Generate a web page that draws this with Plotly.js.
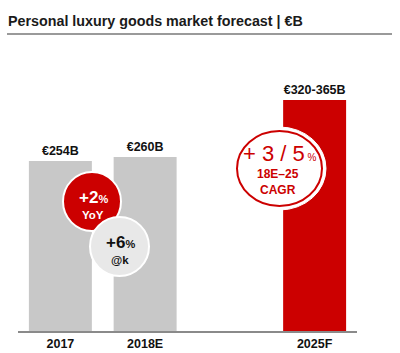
<!DOCTYPE html>
<html>
<head>
<meta charset="utf-8">
<script src="https://cdn.plot.ly/plotly-3.0.1.min.js"></script>
<style>html,body{margin:0;padding:0;background:#fff;}#chart{width:400px;height:353px;}</style>
</head>
<body>
<div id="chart"></div>
<script>
// ---- data ----
const categories = ['2017', '2018E', '2025F'];
const values = [254, 260, 345];          // 2025F drawn at mid of 320-365 range
const valueLabels = ['€254B', '€260B', '€320-365B'];
const barColors = ['#c8c8c8', '#c8c8c8', '#cc0000'];
const axisOrder = ['2017', '2018E', ' ', '2025F']; // blank slot gives the gap

// ---- layout helpers (pixel -> paper) ----
const L = 18, R = 357, T = 77, B = 331;
const px = x => (x - L) / (R - L);
const py = y => (B - y) / (B - T);
const FONT = 'Liberation Sans, Arial, sans-serif';

function ell(x0, y0, x1, y1, fill, lineColor, lineWidth) {
  return {type: 'circle', xref: 'paper', yref: 'paper', layer: 'above',
    x0: px(x0), x1: px(x1), y0: py(y1), y1: py(y0),
    fillcolor: fill, line: {color: lineColor, width: lineWidth}};
}
function ann(x, y, text, size, color) {
  return {xref: 'paper', yref: 'paper', x: px(x), y: py(y), text: text,
    showarrow: false, xanchor: 'center', yanchor: 'middle',
    font: {family: FONT, size: size, color: color}};
}

const trace = {
  type: 'bar', x: categories, y: values,
  marker: {color: barColors, line: {width: 0}},
  text: valueLabels, textposition: 'outside', cliponaxis: false,
  textfont: {family: FONT, size: 12.5, color: '#111', weight: 'bold'},
  hoverinfo: 'skip'
};

const layout = {
  width: 400, height: 353,
  margin: {l: L, r: 400 - R, t: T, b: 353 - B, pad: 0},
  paper_bgcolor: '#fff', plot_bgcolor: '#fff',
  showlegend: false, bargap: 0.257,
  title: {text: 'Personal luxury goods market forecast | €B',
    x: 8 / 400, xref: 'container', xanchor: 'left',
    y: 1 - 21 / 353, yref: 'container', yanchor: 'middle',
    font: {family: FONT, size: 14.3, color: '#1a1a1a', weight: 'bold'}},
  xaxis: {type: 'category', categoryorder: 'array', categoryarray: axisOrder,
    range: [-0.5, 3.5], showline: true, linecolor: '#8a8a8a', linewidth: 1.5,
    ticks: '', showgrid: false, zeroline: false, fixedrange: true,
    tickfont: {family: FONT, size: 12.5, color: '#111', weight: 'bold'}},
  yaxis: {range: [0, 379.5], visible: false, showgrid: false, zeroline: false, fixedrange: true},
  shapes: [
    {type: 'line', xref: 'paper', yref: 'paper', x0: px(7), x1: px(392), y0: py(34), y1: py(34),
      line: {color: '#9a9a9a', width: 2}},
    ell(63, 172, 121, 231, '#cc0000', '#ffffff', 2),
    ell(90, 217, 149, 276, '#e8e8e8', '#ffffff', 2),
    ell(233, 127, 326, 210, '#ffffff', '#ffffff', 1),
    ell(237, 131, 322, 206, '#ffffff', '#cc0000', 2)
  ],
  annotations: [
    ann(93, 197, '<b>+2<span style="font-size:11px">%</span></b>', 17, '#ffffff'),
    ann(93, 215, '<b>YoY</b>', 11.5, '#ffffff'),
    ann(120, 242, '<b>+6<span style="font-size:11px">%</span></b>', 17, '#111111'),
    ann(120, 260, '<b>@k</b>', 11.5, '#111111'),
    ann(280, 153, '+ 3 / 5<span style="font-size:10px"> %</span>', 22, '#cc0000'),
    ann(278, 182, '<b>18E–25<br>CAGR</b>', 12, '#cc0000')
  ]
};

Plotly.newPlot('chart', [trace], layout, {displayModeBar: false, staticPlot: true});
</script>
</body>
</html>
